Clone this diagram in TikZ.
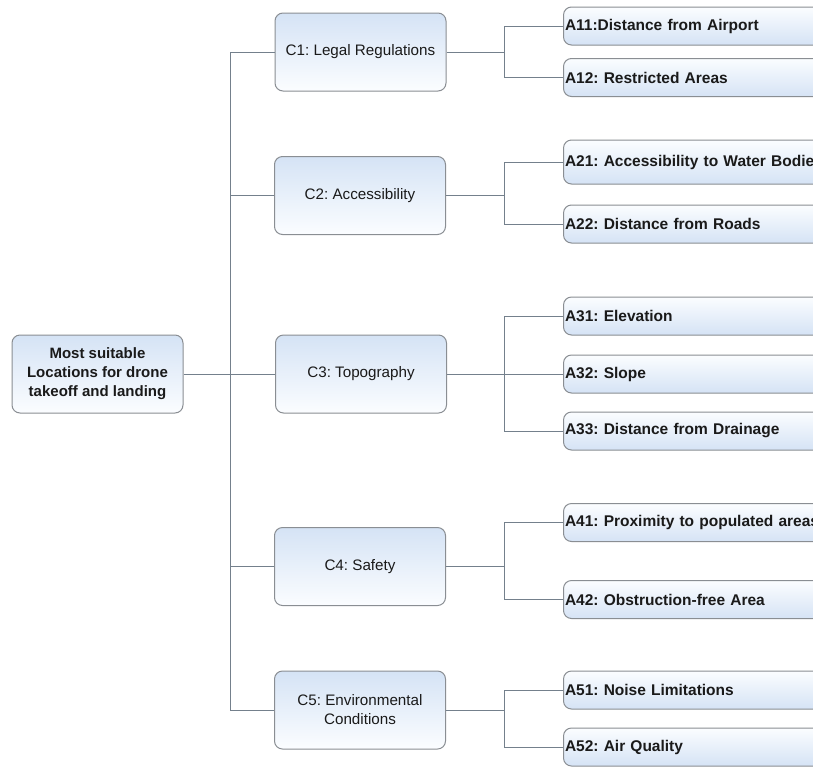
\documentclass[tikz,border=0pt]{standalone}
\usepackage{fontspec}
\setmainfont{Liberation Sans}
\frenchspacing
\definecolor{boxgray}{HTML}{8A8E93}
\definecolor{linegray}{HTML}{74808C}
\definecolor{txt}{HTML}{1A1A1A}
\definecolor{lblue}{HTML}{D5E3F5}
\definecolor{lwhite}{HTML}{FBFDFF}
\tikzset{
  basebox/.style={draw=boxgray, line width=1pt, rounded corners=8pt, inner sep=0pt, text=txt},
  rootbox/.style={basebox, top color=lblue, bottom color=lwhite, minimum width=171pt, minimum height=78pt, align=center, font=\fontsize{15}{19}\selectfont\bfseries},
  cbox/.style={basebox, top color=lblue, bottom color=lwhite, minimum width=171pt, minimum height=78pt, align=center, font=\fontsize{15.2}{19}\selectfont},
  abox/.style={basebox, top color=lwhite, bottom color=lblue, anchor=west, minimum height=38pt, text width=268pt, inner xsep=1.5pt, align=left, font=\fontsize{15.5}{18}\selectfont\bfseries},
  conn/.style={draw=linegray, line width=1pt},
}
\begin{document}
\begin{tikzpicture}[x=1pt,y=-1pt]
\useasboundingbox (0,0) rectangle (813,766);
\clip (0,0) rectangle (813,766);
\fill[white] (0,0) rectangle (813,766);

\node[rootbox] (root) at (97.5,374) {Most suitable\\Locations for drone\\takeoff and landing};

\node[cbox] (C1) at (360.5,52) {C1: Legal Regulations};
\node[cbox] (C2) at (360,195.5) {C2: Accessibility};
\node[cbox] (C3) at (361,374) {C3: Topography};
\node[cbox] (C4) at (360,566.5) {C4: Safety};
\node[cbox] (C5) at (360,710) {C5: Environmental\\Conditions};

\node[abox] (A11) at (563,26) {A11:Distance from Airport};
\node[abox] (A12) at (563,77.5) {A12: Restricted Areas};
\node[abox, minimum height=44pt] (A21) at (563,162) {A21: Accessibility to Water Bodies};
\node[abox] (A22) at (563,224) {A22: Distance from Roads};
\node[abox] (A31) at (563,316) {A31: Elevation};
\node[abox] (A32) at (563,374) {A32: Slope};
\node[abox] (A33) at (563,431) {A33: Distance from Drainage};
\node[abox] (A41) at (563,522.5) {A41: Proximity to populated areas};
\node[abox] (A42) at (563,599.5) {A42: Obstruction-free Area};
\node[abox] (A51) at (563,690) {A51: Noise Limitations};
\node[abox] (A52) at (563,747) {A52: Air Quality};

% trunk
\coordinate (tr) at (230,0);
\draw[conn] (root.east) -- (C3.west);
\draw[conn] (C1.west) -- (C1.west -| tr) -- (C5.west -| tr) -- (C5.west);
\draw[conn] (C2.west) -- (C2.west -| tr);
\draw[conn] (C4.west) -- (C4.west -| tr);

% brackets
\coordinate (br) at (504,0);
\draw[conn] (C1.east) -- (C1.east -| br);
\draw[conn] (A11.west) -- (A11.west -| br) -- (A12.west -| br) -- (A12.west);
\draw[conn] (C2.east) -- (C2.east -| br);
\draw[conn] (A21.west) -- (A21.west -| br) -- (A22.west -| br) -- (A22.west);
\draw[conn] (C3.east) -- (A32.west);
\draw[conn] (A31.west) -- (A31.west -| br) -- (A33.west -| br) -- (A33.west);
\draw[conn] (C4.east) -- (C4.east -| br);
\draw[conn] (A41.west) -- (A41.west -| br) -- (A42.west -| br) -- (A42.west);
\draw[conn] (C5.east) -- (C5.east -| br);
\draw[conn] (A51.west) -- (A51.west -| br) -- (A52.west -| br) -- (A52.west);
\end{tikzpicture}
\end{document}
